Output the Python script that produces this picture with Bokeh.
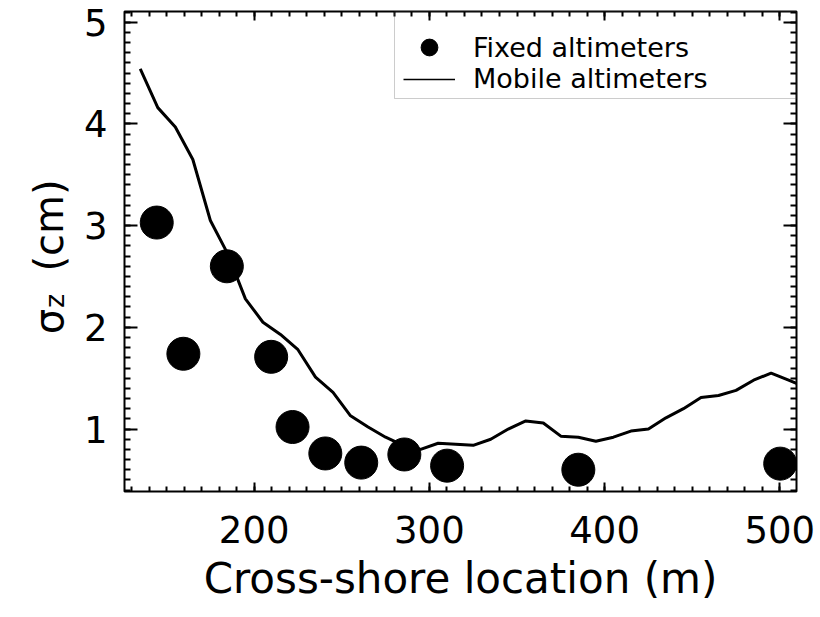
import math
from bokeh.plotting import figure
from bokeh.layouts import row
from bokeh.models import (Range1d, LinearAxis, SingleIntervalTicker,
                          Legend, LegendItem, BoxAnnotation)
from bokeh.core.properties import value
from bokeh.embed import file_html
from bokeh.resources import INLINE

# ---- data ----
fixed_x = [144.4, 159.6, 184.4, 209.7, 221.9, 240.6, 261.1, 285.7, 310.1, 385.0, 500.2]
fixed_y = [3.03, 1.74, 2.60, 1.71, 1.02, 0.76, 0.67, 0.75, 0.64, 0.60, 0.66]

mobile_x = [135, 145, 155, 165, 175, 185, 195, 205, 215, 225, 235, 245, 255, 265,
            275, 285, 295, 305, 315, 325, 335, 345, 355, 365, 375, 385, 395, 405,
            415, 425, 435, 445, 455, 465, 475, 485, 495, 505, 515]
mobile_y = [4.54, 4.16, 3.97, 3.65, 3.05, 2.72, 2.28, 2.05, 1.93, 1.78, 1.51, 1.36,
            1.13, 1.02, 0.92, 0.84, 0.80, 0.86, 0.85, 0.84, 0.90, 1.00, 1.08, 1.06,
            0.93, 0.92, 0.88, 0.92, 0.98, 1.00, 1.11, 1.20, 1.31, 1.33, 1.38, 1.48,
            1.55, 1.48, 1.41]

x_label = "Cross-shore location (m)"
y_label_parts = ["σ", "z", "(cm)"]
legend_labels = ["Fixed altimeters", "Mobile altimeters"]

FONT = "DejaVu Sans"
H = 617
STRIP_W = 70
FRAME_TOP, FRAME_BOTTOM = 11, 491

# ---- strip on the left holding the y-axis title (its frame aligns with the plot frame) ----
strip = figure(width=STRIP_W, height=H, output_backend="svg", toolbar_location=None,
               x_range=Range1d(0, STRIP_W), y_range=Range1d(FRAME_BOTTOM, FRAME_TOP),
               x_axis_type=None, y_axis_type=None, min_border=0)
strip.outline_line_color = None
strip.background_fill_color = "white"
strip.border_fill_color = "white"
strip.grid.visible = False
strip.text(x=[48, 54, 48], y=[321, 300.5, 225], text=y_label_parts,
           angle=math.pi / 2, text_font=value(FONT),
           text_font_size=["40px", "27px", "40px"], text_color="black",
           text_align="center", text_baseline="alphabetic")

# ---- main plot ----
p = figure(width=820 - STRIP_W, height=H, output_backend="svg", toolbar_location=None,
           x_range=Range1d(126.0, 509.5), y_range=Range1d(0.386, 5.105),
           x_axis_type=None, y_axis_type=None,
           min_border_left=124 - STRIP_W, min_border_right=24, min_border_top=FRAME_TOP,
           min_border_bottom=H - FRAME_BOTTOM)
p.background_fill_color = "white"
p.border_fill_color = "white"
p.outline_line_color = "black"
p.outline_line_width = 2
p.grid.visible = False


def style_axis(ax, tick_in, minor_in, show_labels):
    ax.axis_line_color = None
    ax.major_tick_in = tick_in
    ax.major_tick_out = 0
    ax.minor_tick_in = minor_in
    ax.minor_tick_out = 0
    ax.major_tick_line_width = 2
    ax.minor_tick_line_width = 2
    ax.major_tick_line_color = "black"
    ax.minor_tick_line_color = "black"
    if show_labels:
        ax.major_label_text_font = FONT
        ax.major_label_text_font_size = "37px"
        ax.major_label_text_color = "black"
    else:
        ax.major_label_text_color = None
        ax.major_label_text_font_size = "1px"
        ax.major_label_standoff = 0


xb = LinearAxis(ticker=SingleIntervalTicker(interval=100, num_minor_ticks=10))
style_axis(xb, 9, 5, True)
xb.major_label_standoff = 24
xb.axis_label = x_label
xb.axis_label_text_font = FONT
xb.axis_label_text_font_size = "42px"
xb.axis_label_text_font_style = "normal"
xb.axis_label_text_color = "black"
xb.axis_label_standoff = 8
p.add_layout(xb, "below")

xt = LinearAxis(ticker=SingleIntervalTicker(interval=100, num_minor_ticks=10))
style_axis(xt, 9, 5, False)
p.add_layout(xt, "above")

yl = LinearAxis(ticker=SingleIntervalTicker(interval=1, num_minor_ticks=10))
style_axis(yl, 13, 6, True)
yl.major_label_standoff = 17
p.add_layout(yl, "left")

yr = LinearAxis(ticker=SingleIntervalTicker(interval=1, num_minor_ticks=10))
style_axis(yr, 13, 6, False)
p.add_layout(yr, "right")

# ---- data marks ----
thin_r = p.line(mobile_x, mobile_y, line_width=1.5, line_color="black")
line_r = p.line(mobile_x, mobile_y, line_width=3, line_color="black")
dots_r = p.scatter(fixed_x, fixed_y, size=33, fill_color="black", line_color="black")

# ---- legend ----
box = BoxAnnotation(left=270, right=672, top=480, bottom=393,
                    left_units="screen", right_units="screen",
                    top_units="screen", bottom_units="screen",
                    fill_alpha=0, line_color="#555555", line_width=1)
p.add_layout(box)

common = dict(glyph_width=52, padding=0, margin=0, label_standoff=18, spacing=0,
              label_text_font=FONT, label_text_font_size="27px",
              label_text_color="black", border_line_color=None,
              background_fill_alpha=0)
leg1 = Legend(items=[LegendItem(label=legend_labels[0], renderers=[dots_r])],
              location=(279, 423), glyph_height=42, **common)
leg2 = Legend(items=[LegendItem(label=legend_labels[1], renderers=[thin_r])],
              location=(279, 397), glyph_height=30, **common)
p.add_layout(leg1)
p.add_layout(leg2)

layout = row(strip, p, spacing=0)
open("out.html", "w").write(file_html(layout, INLINE))
